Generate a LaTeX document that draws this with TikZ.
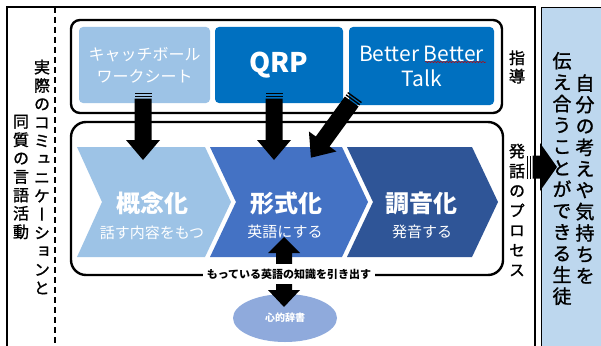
\documentclass[tikz,border=0pt]{standalone}
\usepackage{fontspec}
\setmainfont{Noto Sans CJK JP}
\newfontfamily\vjp[RawFeature=+vert, FakeBold=1.3]{Noto Sans CJK JP}
\usetikzlibrary{shapes.geometric,decorations.pathmorphing}
\definecolor{lblue}{HTML}{9DC3E6}
\definecolor{mblue}{HTML}{0070C0}
\definecolor{cbtwo}{HTML}{4472C4}
\definecolor{cbthree}{HTML}{2F5597}
\definecolor{ellc}{HTML}{8FAADC}
\definecolor{rightc}{HTML}{BDD7EE}
\newcommand\StripeArrow[4]{%
  \fill (-#2,0) rectangle (#2,1.4);
  \fill (-#2,2.8) rectangle (#2,4.2);
  \fill (-#2,5.6) -- (#2,5.6) -- (#2,#1-#4) -- (#3,#1-#4) -- (0,#1) -- (-#3,#1-#4) -- (-#2,#1-#4) -- cycle;}
\begin{document}
\begin{tikzpicture}[x=1pt,y=-1pt,
  vlabel/.style={align=center, inner sep=0pt, font=\vjp\fontsize{16}{18.4}\selectfont},
  rlabel/.style={align=center, inner sep=0pt, font=\vjp\fontsize{19}{21.4}\selectfont},
  frame/.style={draw, line width=2.4pt},
  inbox/.style={rounded corners=4pt, text=white, align=center, inner sep=0pt},
  chevtitle/.style={text=white, inner sep=0pt, font=\bfseries\fontsize{24}{26}\selectfont},
  chevsub/.style={text=white, inner sep=0pt, font=\fontsize{15}{17}\selectfont}]
\useasboundingbox (0,0) rectangle (601,345);
\fill[white] (0,0) rectangle (601,345);
% outer frame
\draw[line width=1.4pt] (7,360) -- (7,7) -- (535,7) -- (535,360);
\draw[line width=1.4pt, dash pattern=on 6pt off 4pt] (55,7) -- (55,360);
% right box
\node[draw, line width=1.2pt, fill=rightc, minimum width=80pt, minimum height=360pt, inner sep=0pt, anchor=north west] (goal) at (541,7) {};
% top container
\node[frame, rounded corners=9pt, minimum width=431pt, minimum height=93pt, inner sep=0pt] (guide) at (286.5,66.5) {};
\node[inbox, fill=lblue, minimum width=131pt, minimum height=76pt, font=\fontsize{16}{22}\selectfont] (catch) at (144.5,65) {キャッチボール\\ワークシート};
\node[inbox, fill=mblue, minimum width=128pt, minimum height=76pt, font=\bfseries\fontsize{27}{30}\selectfont] (qrp) at (279,65) {QRP};
\node[inbox, fill=mblue, minimum width=145pt, minimum height=78pt, font=\fontsize{21}{25}\selectfont] (bbt) at (421.5,66) {Better Better\\Talk};
\draw[red!75!black, line width=0.5pt, decorate, decoration={snake, amplitude=0.6pt, segment length=3pt}] (425,62) -- (486,62);
% lower container
\node[frame, rounded corners=15pt, minimum width=432pt, minimum height=153pt, inner sep=0pt] (process) at (287,198.5) {};
% chevrons
\fill[lblue] (77,147) -- (205,147) -- (231,202) -- (205,257) -- (77,257) -- (102,202) -- cycle;
\fill[cbtwo] (210,147) -- (342,147) -- (368,202) -- (342,257) -- (210,257) -- (236,202) -- cycle;
\fill[cbthree] (347,147) -- (472,147) -- (498,202) -- (472,257) -- (347,257) -- (373,202) -- cycle;
\node[chevtitle] (t1) at (152,203) {概念化};
\node[chevsub] (s1) at (152,233) {話す内容をもつ};
\node[chevtitle] (t2) at (286,203) {形式化};
\node[chevsub] (s2) at (285,232) {英語にする};
\node[chevtitle] (t3) at (421,203) {調音化};
\node[chevsub] (s3) at (422,232) {発音する};
% block arrows
\coordinate (a1) at (143,93);
\coordinate (a2) at (274,93);
\coordinate (a3) at (355,97);
\coordinate (a4) at (527,167);
\begin{scope}[shift={(a1)}] \StripeArrow{67}{8.5}{17}{20} \end{scope}
\begin{scope}[shift={(a2)}] \StripeArrow{67}{8.5}{17}{20} \end{scope}
\begin{scope}[shift={(a3)}, rotate=-36] \StripeArrow{75}{8.5}{17}{20} \end{scope}
\begin{scope}[shift={(a4)}, rotate=90] \StripeArrow{30}{11.5}{24}{17} \end{scope}
% dictionary
\node[ellipse, fill=ellc, minimum width=104pt, minimum height=48pt, inner sep=0pt, text=white, font=\bfseries\fontsize{10}{12}\selectfont] (dict) at (285,318) {心的辞書};
\fill (284,237) -- (300,253) -- (292,253) -- (292,290) -- (300,290) -- (284,307) -- (268,290) -- (276,290) -- (276,253) -- (268,253) -- cycle;
\node[fill=white, inner xsep=4pt, inner ysep=5pt, font=\bfseries\fontsize{11}{13}\selectfont] (pull) at (289,274) {もっている英語の知識を引き出す};
% vertical labels
\node[vlabel] (real) at (42,177) {実\\際\\の\\コ\\ミ\\ュ\\ニ\\ケ\\ー\\シ\\ョ\\ン\\と};
\node[vlabel] (same) at (21,177) {同\\質\\の\\言\\語\\活\\動};
\node[vlabel] (lead) at (517,67) {指\\導};
\node[vlabel, font=\vjp\fontsize{16}{19.8}\selectfont] (proc) at (517,210) {発\\話\\の\\プ\\ロ\\セ\\ス};
\node[rlabel] (g1) at (585,179) {自\\分\\の\\考\\え\\や\\気\\持\\ち\\を};
\node[rlabel] (g2) at (562,178.5) {伝\\え\\合\\う\\こ\\と\\が\\で\\き\\る\\生\\徒};
\end{tikzpicture}
\end{document}
